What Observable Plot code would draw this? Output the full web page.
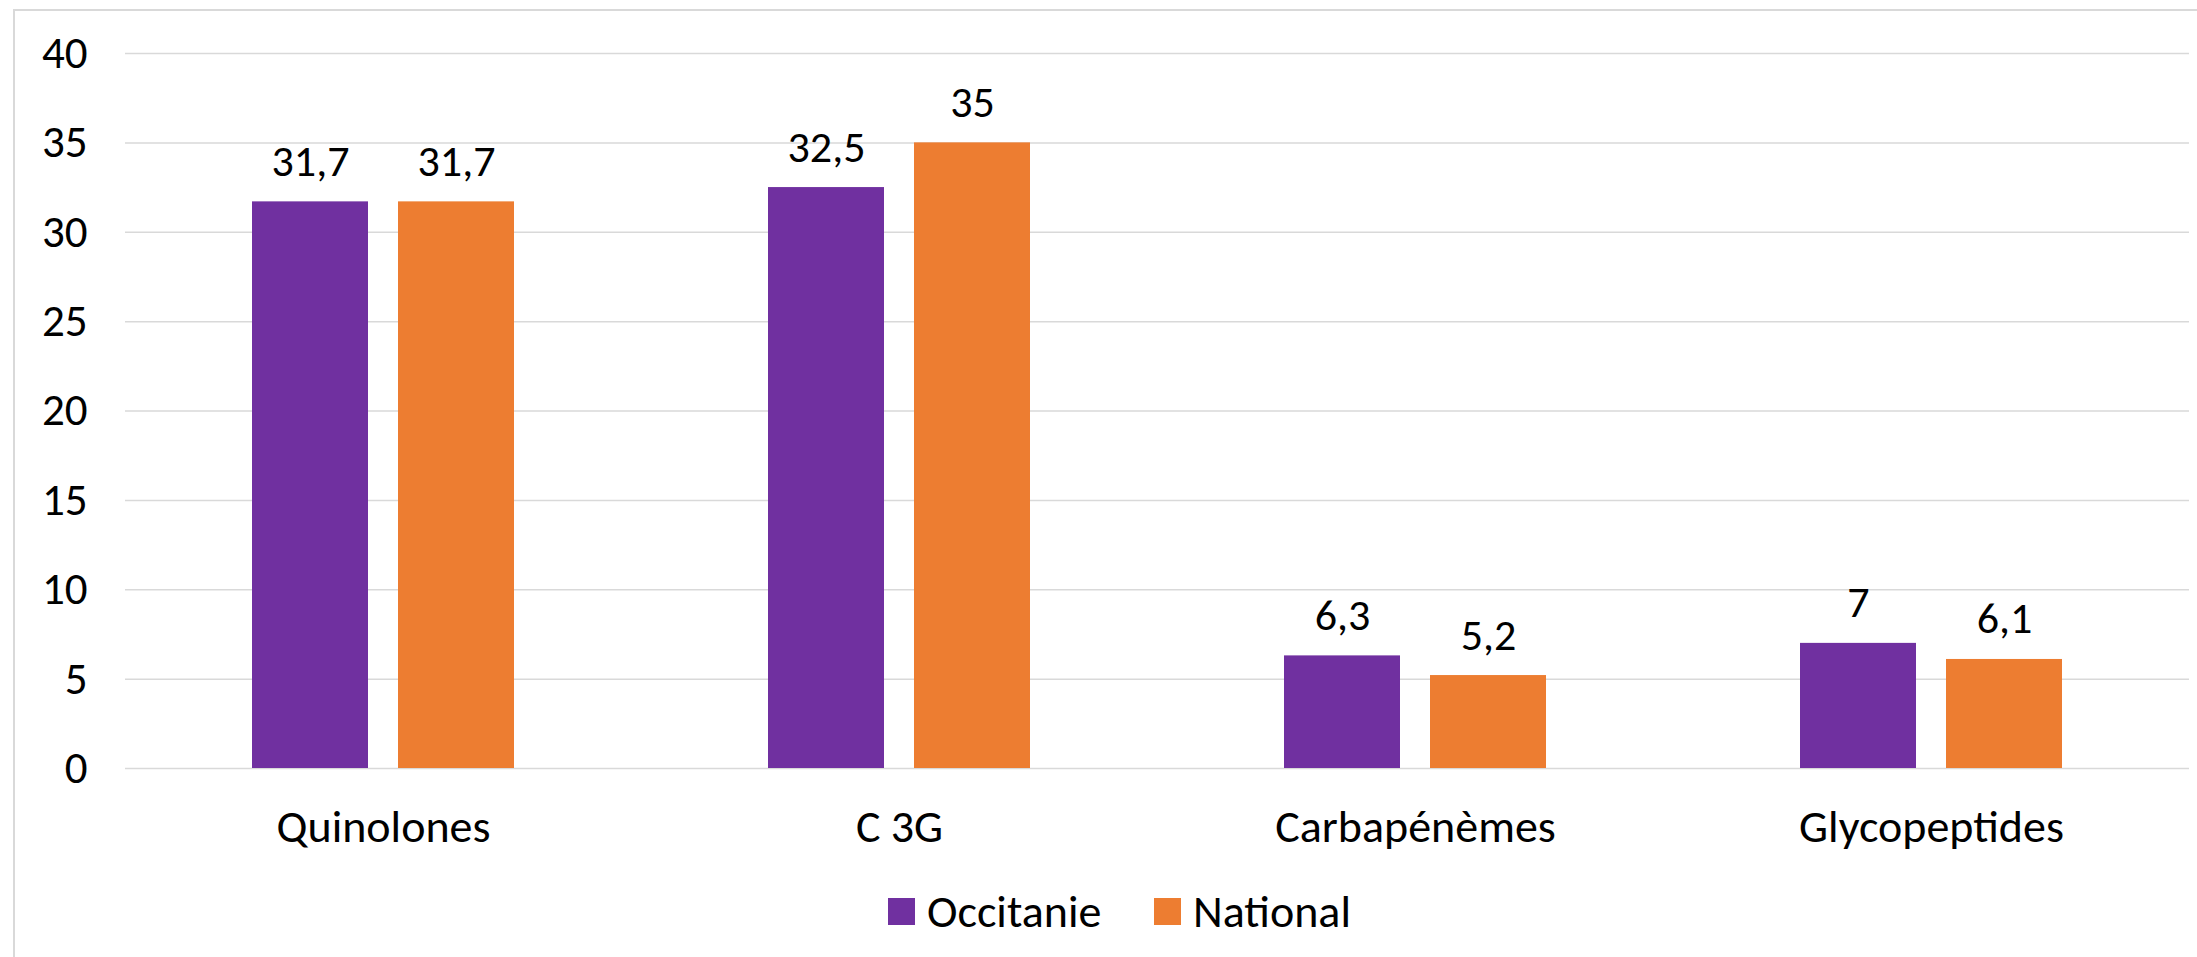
<!DOCTYPE html>
<html>
<head>
<meta charset="utf-8">
<script src="https://cdn.jsdelivr.net/npm/d3@7"></script>
<script src="https://cdn.jsdelivr.net/npm/@observablehq/plot@0.6"></script>
<style>
  html, body { margin: 0; padding: 0; background: #fff; width: 2197px; height: 957px; overflow: hidden; }
  #frame { position: absolute; left: 13px; top: 9px; width: 2195px; height: 960px; border: 2px solid #d9d9d9; box-sizing: border-box; }
  #chart { position: absolute; left: 0; top: 0; }
  #legend { position: absolute; top: 886px; left: 0; width: 2197px; font-family: Carlito, Lato, sans-serif; font-size: 46px; color: #000; }
  .item { position: absolute; display: flex; align-items: center; height: 50px; }
  .sw { width: 27px; height: 27px; display: inline-block; margin-right: 12px; }
</style>
</head>
<body>
<div id="frame"></div>
<div id="chart"></div>
<div id="legend"></div>
<script>
const categories = ["Quinolones", "C 3G", "Carbapénèmes", "Glycopeptides"];
const series = ["Occitanie", "National"];
const occitanie = [31.7, 32.5, 6.3, 7];
const national = [31.7, 35, 5.2, 6.1];
const yTicks = [0, 5, 10, 15, 20, 25, 30, 35, 40];
const colors = ["#7030A0", "#ED7D31"];

const data = categories.flatMap((c, i) => [
  {category: c, series: series[0], value: occitanie[i]},
  {category: c, series: series[1], value: national[i]}
]);

const fmt = v => String(v).replace(".", ",");

const chart = Plot.plot({
  width: 2197,
  height: 860,
  marginLeft: 123,
  marginRight: 7,
  marginTop: 53,
  marginBottom: 92,
  style: {fontFamily: "Carlito, Lato, sans-serif", fontSize: "44px", color: "#000", background: "transparent"},
  fx: {domain: categories, padding: 0, label: null},
  x: {domain: series, paddingInner: 0.204, paddingOuter: 0.86, axis: null},
  y: {domain: [0, 40], label: null},
  color: {domain: series, range: colors},
  marks: [
    Plot.gridY(yTicks, {stroke: "#d9d9d9", strokeOpacity: 1, strokeWidth: 1.5}),
    Plot.axisY(yTicks, {tickSize: 0, tickPadding: 38, label: null, fontSize: 45}),
    Plot.axisFx({anchor: "bottom", tickSize: 0, tickPadding: 41, label: null, fontSize: 46}),
    Plot.barY(data, {fx: "category", x: "series", y: "value", fill: "series"}),
    Plot.text(data, {fx: "category", x: "series", y: "value", text: d => fmt(d.value), lineAnchor: "bottom", dy: -26, fontSize: 44, fill: "#000"})
  ]
});
document.getElementById("chart").appendChild(chart);

const legend = document.getElementById("legend");
const legendX = [888, 1154];
series.forEach((s, i) => {
  const it = document.createElement("div");
  it.className = "item";
  it.style.left = legendX[i] + "px";
  const sw = document.createElement("span");
  sw.className = "sw";
  sw.style.background = colors[i];
  const t = document.createElement("span");
  t.textContent = s;
  it.appendChild(sw);
  it.appendChild(t);
  legend.appendChild(it);
});
</script>
</body>
</html>
